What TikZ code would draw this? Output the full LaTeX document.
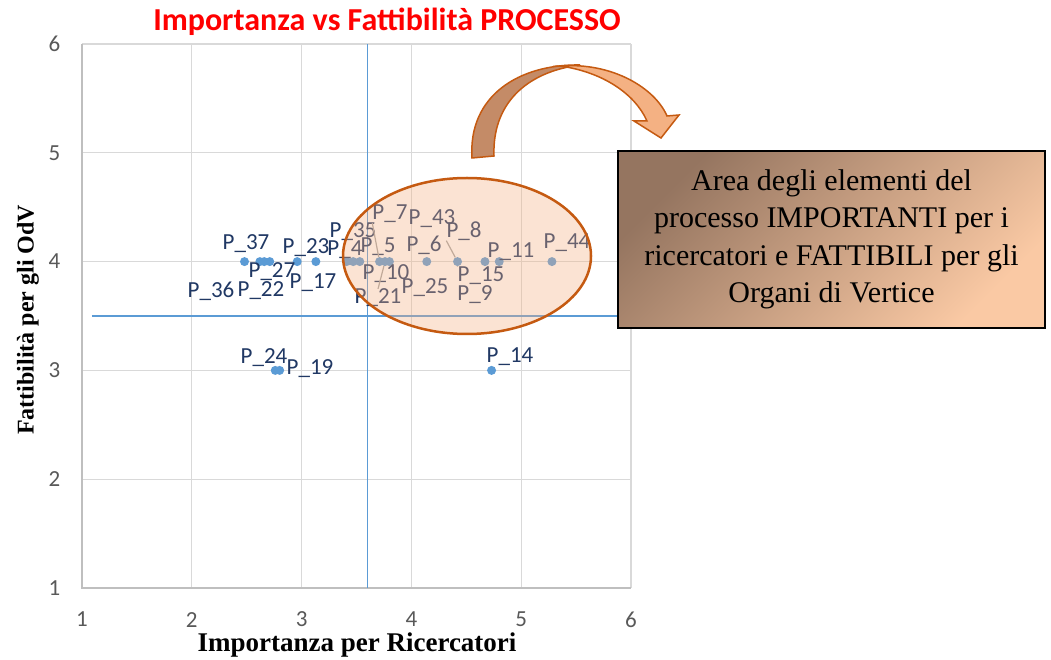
\documentclass[tikz,border=0pt]{standalone}
\usepackage{fontspec}
\setmainfont{Liberation Serif}
\newfontfamily\calibri{Carlito}
\usetikzlibrary{shapes.geometric}
\definecolor{gridgray}{HTML}{D9D9D9}
\definecolor{axisgray}{HTML}{BFBFBF}
\definecolor{ticktext}{HTML}{595959}
\definecolor{xlblue}{HTML}{5B9BD5}
\definecolor{lblnavy}{HTML}{203864}
\definecolor{areafill}{HTML}{F4B183}
\definecolor{areadraw}{HTML}{C55A11}
\definecolor{boxdark}{HTML}{957560}
\definecolor{boxlight}{HTML}{FAC9A4}
\definecolor{arrowback}{HTML}{C48B67}
\definecolor{arrowfront}{HTML}{F4B183}
\definecolor{leadgray}{HTML}{A6A6A6}

\begin{document}
\begin{tikzpicture}
    \tikzstyle{dot}=[circle,fill=xlblue,inner sep=0pt,minimum size=9pt]
    \tikzstyle{lbl}=[text=lblnavy,font=\calibri\fontsize{23}{26}\selectfont,inner sep=0pt]
    \tikzstyle{tick}=[text=ticktext,font=\calibri\fontsize{23}{26}\selectfont,inner sep=0pt]
    \tikzstyle{leader}=[leadgray,line width=1.2pt]
    \tikzstyle{quadrant}=[draw=xlblue,line width=1.8pt]
    \useasboundingbox (0pt,0pt) rectangle (1051pt,659pt);
    \fill[white] (0pt,0pt) rectangle (1051pt,659pt);
    % chart, in data units
    \begin{scope}[x=109.8pt,y=108.8pt,shift={(-27.8pt,-37.8pt)}]
      \foreach \i in {2,...,6} \draw[gridgray,line width=1.3pt] (\i,1) -- (\i,6);
      \foreach \i in {2,...,6} \draw[gridgray,line width=1.3pt] (1,\i) -- (6,\i);
      \draw[axisgray,line width=1.3pt] (1,6) -- (1,1) -- (6,1);
      \foreach \i in {1,...,6} \node[tick] at (\i,0.71) {\i};
      \foreach \i in {1,...,6} \node[tick] at (0.75,\i) {\i};
      \draw[quadrant] (1.09,3.5) -- (5.88,3.5);
      \draw[quadrant] (3.6,6) -- (3.6,1);
      \foreach \n/\x/\y in {37/2.48/4, 36/2.62/4, 22/2.66/4, 27/2.71/4, 23/2.96/4, 17/3.13/4,
          35/3.41/4, 4/3.47/4, 21/3.53/4, 7/3.71/4, 5/3.76/4, 10/3.80/4, 6/4.14/4,
          8/4.42/4, 15/4.67/4, 11/4.80/4, 44/5.28/4, 24/2.76/3, 19/2.80/3, 14/4.73/3}
        \node[dot] (p\n) at (\x,\y) {};
      \foreach \n/\x/\y in {37/2.494/4.162, 27/2.730/3.904, 36/2.175/3.730, 22/2.630/3.730,
          23/3.040/4.125, 17/3.104/3.803, 35/3.468/4.272, 4/3.395/4.107, 7/3.805/4.438,
          43/4.188/4.392, 5/3.696/4.134, 6/4.115/4.153, 8/4.479/4.281, 11/4.907/4.088,
          44/5.417/4.171, 10/3.769/3.886, 21/3.696/3.665, 25/4.124/3.757, 15/4.634/3.868,
          9/4.579/3.693, 24/2.658/3.114, 19/3.077/3.013, 14/4.898/3.123}
        \node[lbl] (l\n) at (\x,\y) {P\_\n};
      \draw[leader] (l7.south west) -- (p7);
      \draw[leader] (l8.south west) -- (p8);
      \draw[leader] (l15.north west) -- (p8);
      \draw[leader] (l10.north) -- (p10);
      \draw[leader] (l21.north) -- (p5);
    \end{scope}
    % ellipse, arrow and text box, in pixels from the top left corner
    \begin{scope}[x=1pt,y=-1pt,yshift=659pt]
      \node[ellipse,draw=areadraw,line width=2.5pt,fill=areafill,fill opacity=0.35,
            minimum width=248pt,minimum height=156pt] (area) at (467,256) {};
      \node[text=red,font=\calibri\bfseries\fontsize{32}{36}\selectfont] (title) at (387,22)
        {Importanza vs Fattibilità PROCESSO};
      \node[font=\bfseries\fontsize{27}{30}\selectfont] (xtitle) at (357,645)
        {Importanza per Ricercatori};
      \node[font=\bfseries\fontsize{24}{28}\selectfont,rotate=90] (ytitle) at (28,320)
        {Fattibilità per gli OdV};
      \filldraw[fill=arrowback,draw=areadraw,line width=1.5pt]
        (472,158) .. controls (468,95) and (520,64) .. (580,65)
        .. controls (525,72) and (492,105) .. (494,156) -- cycle;
      \filldraw[fill=arrowfront,draw=areadraw,line width=1.5pt]
        (560,66) .. controls (612,62) and (655,88) .. (667,116)
        -- (679,115) -- (661,138) -- (634,121) -- (647,121)
        .. controls (635,94) and (603,72) .. (560,66) -- cycle;
      \node[draw=black,line width=1.5pt,top color=boxdark,bottom color=boxlight,shading angle=45,
            minimum width=427pt,minimum height=177pt,align=center,
            font=\fontsize{30}{37.5}\selectfont] (info) at (831.5,239.5)
        {Area degli elementi del\\processo IMPORTANTI per i\\ricercatori e FATTIBILI per gli\\Organi di Vertice};
    \end{scope}
\end{tikzpicture}
\end{document}
